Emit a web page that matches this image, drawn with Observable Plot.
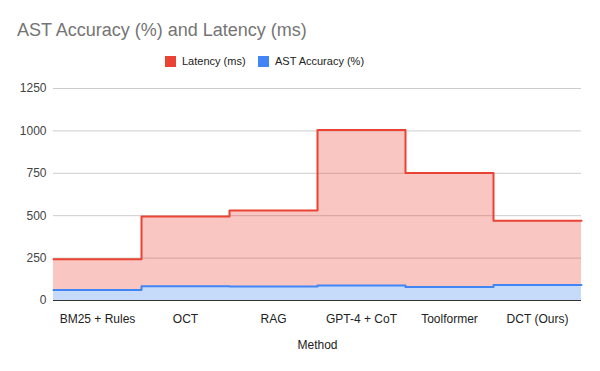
<!DOCTYPE html>
<html>
<head>
<meta charset="utf-8">
<script src="https://cdn.jsdelivr.net/npm/d3@7"></script>
<script src="https://cdn.jsdelivr.net/npm/@observablehq/plot@0.6"></script>
<style>
  body { margin: 0; background: #fff; font-family: "Liberation Sans", Arial, sans-serif; }
  #wrap { position: relative; width: 600px; height: 371px; overflow: hidden; }
  #title { position: absolute; left: 17px; top: 20px; font-size: 18px; color: #757575; white-space: nowrap; }
  #legend { position: absolute; left: 0; top: 55px; width: 600px; font-size: 11px; color: #222; }
  .sw { position: absolute; width: 11px; height: 11px; top: 1px; }
  .lt { position: absolute; top: 0; white-space: nowrap; }
  #plot { position: absolute; left: 0; top: 70px; }
</style>
</head>
<body>
<div id="wrap">
  <div id="title">AST Accuracy (%) and Latency (ms)</div>
  <div id="legend">
    <div class="sw" style="left:165px;background:#ea4335"></div><div class="lt" style="left:182px">Latency (ms)</div>
    <div class="sw" style="left:258px;background:#4285f4"></div><div class="lt" style="left:275px">AST Accuracy (%)</div>
  </div>
  <div id="plot"></div>
</div>
<script>
const methods = ["BM25 + Rules", "OCT", "RAG", "GPT-4 + CoT", "Toolformer", "DCT (Ours)"];
const latency = [243, 495, 530, 1005, 752, 470];
const accuracy = [62, 84, 83, 88, 79, 91];
const yTicks = [0, 250, 500, 750, 1000, 1250];

// step rows: each method occupies [i, i+1]; closing point repeats last value
const rows = methods.map((m, i) => ({x: i, lat: latency[i], acc: accuracy[i]}));
rows.push({x: methods.length, lat: latency[latency.length - 1], acc: accuracy[accuracy.length - 1]});

const chart = Plot.plot({
  width: 600,
  height: 301,
  marginLeft: 53,
  marginRight: 19,
  marginTop: 18,
  marginBottom: 71,
  style: {fontFamily: "'Liberation Sans', Arial, sans-serif", fontSize: "12px", color: "#222", background: "transparent"},
  x: {domain: [0, methods.length], axis: null},
  y: {domain: [0, 1250], axis: null},
  marks: [
    Plot.ruleY(yTicks.filter(d => d > 0), {stroke: "#cccccc", strokeWidth: 1}),
    Plot.areaY(rows, {x: "x", y: "lat", curve: "step-after", fill: "#ea4335", fillOpacity: 0.3}),
    Plot.areaY(rows, {x: "x", y: "acc", curve: "step-after", fill: "#c6dafa", fillOpacity: 1}),
    Plot.lineY(rows, {x: "x", y: "lat", curve: "step-after", stroke: "#ea4335", strokeWidth: 2}),
    Plot.lineY(rows, {x: "x", y: "acc", curve: "step-after", stroke: "#4285f4", strokeWidth: 2}),
    Plot.ruleY([0], {stroke: "#333333", strokeWidth: 1}),
    Plot.text(yTicks, {x: 0, y: d => d, text: d => String(d), textAnchor: "end", dx: -7, fill: "#444", fontSize: 12}),
    Plot.text(methods, {x: (d, i) => i + 0.5, y: 0, text: d => d, dy: 19, fill: "#222", fontSize: 12}),
    Plot.text(["Method"], {x: methods.length / 2, y: 0, text: d => d, dy: 45, fill: "#222", fontSize: 12})
  ]
});
document.getElementById("plot").appendChild(chart);
</script>
</body>
</html>
